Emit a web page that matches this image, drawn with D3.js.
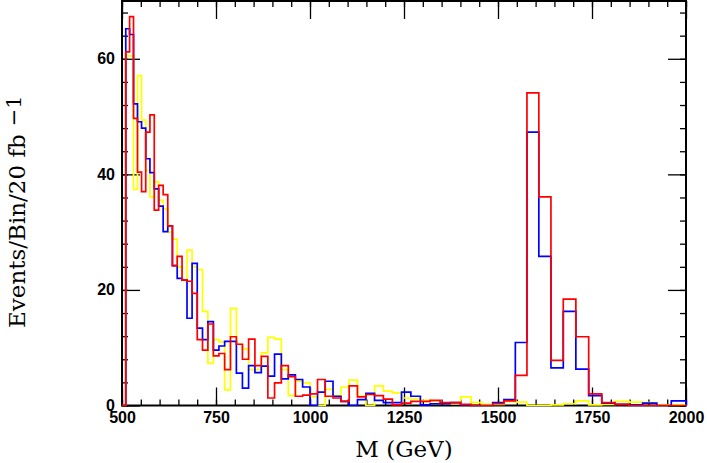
<!DOCTYPE html>
<html><head><meta charset="utf-8">
<script src="https://cdn.jsdelivr.net/npm/d3@7"></script>
<style>html,body{margin:0;padding:0;background:#fff;} svg{display:block;}</style>
</head><body>
<svg id="chart" width="707" height="463"></svg>
<script>
// Bin edges in GeV (70 bins, log-spaced 500..2000)
const binEdges = [500.0, 510.0, 520.2, 530.6, 541.2, 552.0, 563.1, 574.3, 585.8, 597.5,
  609.5, 621.7, 634.1, 646.8, 659.7, 672.9, 686.4, 700.1, 714.1, 728.4,
  743.0, 757.8, 773.0, 788.5, 804.2, 820.3, 836.7, 853.5, 870.5, 887.9,
  905.7, 923.8, 942.3, 961.1, 980.4, 1000.0, 1020.0, 1040.4, 1061.2, 1082.4,
  1104.1, 1126.2, 1148.7, 1171.7, 1195.1, 1219.0, 1243.4, 1268.3, 1293.6, 1319.5,
  1346.0, 1372.9, 1400.3, 1428.3, 1456.9, 1486.0, 1515.8, 1546.1, 1577.0, 1608.6,
  1640.8, 1673.6, 1707.1, 1741.2, 1776.0, 1811.5, 1847.8, 1884.7, 1922.4, 1960.9,
  2000.0];

const yellowCounts = [0, 60.5, 60.5, 37.4, 57.1, 49.4, 40.7, 36.1, 38.7, 35.5,
  34.0, 30.0, 28.8, 24.0, 21.7, 26.9, 24.0, 23.5, 16.3, 7.3,
  11.4, 11.0, 2.7, 16.8, 10.6, 9.8, 6.2, 6.2, 9.1, 11.8,
  11.5, 6.2, 1.7, 4.2, 3.9, 1.5, 0, 2.8, 1.7, 3.2,
  4.4, 1.6, 0, 3.4, 2.5, 2.2, 1.3, 1.2, 0.9, 0.7,
  0.4, 0.3, 1.5, 0.5, 0.2, 0.2, 0.7, 0.6, 0, 0,
  0.1, 0.3, 0.8, 0.1, 0.2, 0.7, 0.6, 0.5, 0.1, 0.1];

const blueCounts = [0, 65.2, 64.2, 52.2, 49.1, 48.0, 42.7, 40.3, 37.5, 34.5,
  30.1, 31.1, 24.2, 22.0, 21.7, 15.1, 24.6, 13.4, 11.4, 14.5,
  9.6, 10.3, 11.1, 11.1, 5.6, 3.0, 6.9, 5.7, 6.8, 5.1,
  8.9, 4.6, 5.3, 4.5, 3.2, 0, 2.3, 4.2, 1.6, 0.7,
  0, 1.0, 2.1, 0.9, 0.5, 0.5, 2.3, 1.6, 0.1, 0.3,
  0.3, 0.5, 0.1, 0, 0, 0.5, 1.0, 10.9, 47.3, 25.8,
  6.5, 16.3, 6.3, 1.7, 0.4, 0.2, 0.1, 0.4, 0, 0.8];

const redCounts = [0, 61.2, 67.3, 49.7, 40.4, 37.0, 47.3, 50.3, 33.8, 38.1,
  36.5, 31.1, 24.2, 25.8, 21.7, 21.5, 19.4, 11.4, 9.6, 14.1,
  8.6, 9.0, 6.2, 11.9, 10.6, 8.0, 11.5, 6.9, 8.5, 1.3,
  3.9, 6.9, 5.0, 1.6, 1.8, 2.0, 4.5, 1.6, 1.3, 0.7,
  3.4, 1.5, 1.9, 1.7, 1.1, 0.1, 0.4, 0.7, 0.7, 0.9,
  0.5, 0.5, 0.2, 0, 0, 0.3, 0.8, 5.2, 54.1, 36.1,
  7.8, 18.4, 11.9, 2.0, 0.5, 0.2, 0, 0, 0, 0];

const xTickLabels = [500, 750, 1000, 1250, 1500, 1750, 2000];
const yTickLabels = [0, 20, 40, 60];
const xTitle = "M (GeV)";
const yTitle = "Events/Bin/20 fb";
const yTitleSup = "\u22121";

const series = [
  {name: "yellow", counts: yellowCounts, color: "#ffff00"},
  {name: "blue", counts: blueCounts, color: "#0000ff"},
  {name: "red", counts: redCounts, color: "#ff0000"}
];

const X0 = 122, X1 = 686, Y0 = 405.5, Y1 = 1;
const x = d3.scaleLinear().domain([500, 2000]).range([X0, X1]);
const y = d3.scaleLinear().domain([0, 70]).range([Y0, Y1]);

const svg = d3.select("#chart");
const tickFont = "'Liberation Sans', Arial, sans-serif";
const xMinor = d3.range(500, 2001, 50);
const yMinor = d3.range(0, 71, 4);

function styleAxis(g) {
  g.select(".domain").remove();
  g.selectAll(".tick line").attr("stroke", "#000").attr("stroke-width", 1.3);
}

// bottom
svg.append("g").attr("transform", `translate(0,${Y0})`)
  .call(d3.axisBottom(x).tickValues(xMinor).tickSize(-6).tickFormat(""))
  .call(styleAxis);
svg.append("g").attr("transform", `translate(0,${Y0})`)
  .call(d3.axisBottom(x).tickValues(xTickLabels).tickSize(-18).tickPadding(6).tickFormat(d3.format("d")))
  .call(styleAxis)
  .call(g => g.selectAll("text").attr("font-family", tickFont).attr("font-size", 16)
    .attr("font-weight", "bold").attr("fill", "#000"));
// top
svg.append("g").attr("transform", `translate(0,${Y1})`)
  .call(d3.axisTop(x).tickValues(xMinor).tickSize(-6).tickFormat(""))
  .call(styleAxis);
svg.append("g").attr("transform", `translate(0,${Y1})`)
  .call(d3.axisTop(x).tickValues(xTickLabels).tickSize(-18).tickFormat(""))
  .call(styleAxis);
// left
svg.append("g").attr("transform", `translate(${X0},0)`)
  .call(d3.axisLeft(y).tickValues(yMinor).tickSize(-6).tickFormat(""))
  .call(styleAxis);
svg.append("g").attr("transform", `translate(${X0},0)`)
  .call(d3.axisLeft(y).tickValues(yTickLabels).tickSize(-18).tickPadding(7).tickFormat(d3.format("d")))
  .call(styleAxis)
  .call(g => g.selectAll("text").attr("font-family", tickFont).attr("font-size", 16)
    .attr("font-weight", "bold").attr("fill", "#000").attr("dy", "0.3em"));
// right
svg.append("g").attr("transform", `translate(${X1},0)`)
  .call(d3.axisRight(y).tickValues(yMinor).tickSize(-6).tickFormat(""))
  .call(styleAxis);
svg.append("g").attr("transform", `translate(${X1},0)`)
  .call(d3.axisRight(y).tickValues(yTickLabels).tickSize(-18).tickFormat(""))
  .call(styleAxis);

// frame
svg.append("rect").attr("x", X0).attr("y", Y1).attr("width", X1 - X0).attr("height", Y0 - Y1)
  .attr("fill", "none").attr("stroke", "#000").attr("stroke-width", 2);

// histograms
svg.append("clipPath").attr("id", "plotclip").append("rect")
  .attr("x", X0 - 1).attr("y", Y1 - 1).attr("width", X1 - X0 + 2).attr("height", Y0 - Y1 + 2);

const line = d3.line().x(d => x(d[0])).y(d => y(d[1])).curve(d3.curveStepAfter);
const hg = svg.append("g").attr("clip-path", "url(#plotclip)");
series.forEach(s => {
  const pts = [[binEdges[0], 0]];
  s.counts.forEach((v, i) => pts.push([binEdges[i], v]));
  const last = s.counts.length;
  pts.push([binEdges[last], s.counts[last - 1]]);
  pts.push([binEdges[last], 0]);
  hg.append("path").attr("d", line(pts)).attr("fill", "none")
    .attr("stroke", s.color).attr("stroke-width", 1.7)
    .attr("stroke-linejoin", "miter");
});

// titles
const serif = "'DejaVu Serif', 'Liberation Serif', serif";
svg.append("text").attr("x", (X0 + X1) / 2).attr("y", 457)
  .attr("text-anchor", "middle").attr("font-family", serif).attr("font-size", 23)
  .attr("fill", "#000").text(xTitle);

const yt = svg.append("text").attr("transform", "translate(24.5,328) rotate(-90)")
  .attr("font-family", serif).attr("font-size", 23).attr("fill", "#000");
yt.append("tspan").text(yTitle);
yt.append("tspan").attr("dx", 8).attr("dy", -4).attr("font-size", 21).text(yTitleSup);
</script>
</body></html>
